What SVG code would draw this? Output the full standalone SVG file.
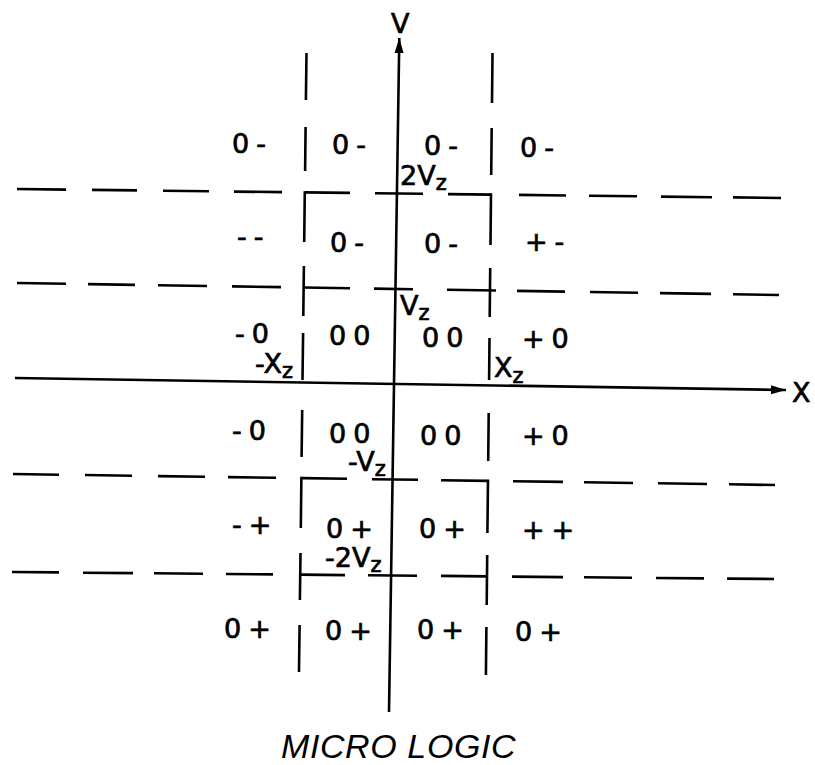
<svg xmlns="http://www.w3.org/2000/svg" width="815" height="765" viewBox="0 0 815 765">
<style>
.grid{stroke:#000;stroke-width:2.6;fill:none;stroke-linecap:butt}
.axis{stroke:#000;stroke-width:2.6;fill:none}
.lbl{font-family:"DejaVu Sans","Liberation Sans",sans-serif;font-size:27px;letter-spacing:7px;fill:#000;stroke:#000;stroke-width:0.7}
.ax{font-family:"DejaVu Sans","Liberation Sans",sans-serif;font-size:27px;fill:#000;stroke:#000;stroke-width:0.7}
.sub{font-size:21px}
.title{font-family:"Liberation Sans","DejaVu Sans",sans-serif;font-size:34px;font-style:italic;letter-spacing:0.6px;fill:#000}
</style>
<defs>
<marker id="arr" markerUnits="userSpaceOnUse" markerWidth="18" markerHeight="12" refX="15" refY="5" orient="auto">
<path d="M0,0.5 L15,5 L0,9.5 Z" fill="#000"/>
</marker>
</defs>
<rect width="815" height="765" fill="#fff"/>
<g id="connectors">
<g id="axes">
<line class="axis" x1="389" y1="712" x2="399.3" y2="38" marker-end="url(#arr)"/>
<line class="axis" x1="15" y1="378" x2="786" y2="390" marker-end="url(#arr)"/>
</g>
<g id="h-2Vz">
<path class="grid" d="M17,189 L66,189.6 M92,189.9 L137,190.4 M163,190.7 L209,191.3 M234,191.6 L282,192.1 M304.8,192.4 L350,192.9 M375,193.2 L423,193.8 M448,194.1 L491,194.6 M519,194.9 L566,195.5 M589,195.7 L637,196.3 M661,196.6 L712,197.2 M733,197.4 L781,198"/>
</g>
<g id="h-Vz">
<path class="grid" d="M17,283 L66,283.8 M88,284.1 L135,284.9 M158,285.2 L207,286 M232,286.4 L281,287.1 M303.5,287.5 L350,288.2 M374,288.6 L413,289.2 M447,289.8 L496,290.5 M517,290.9 L565,291.6 M590,292 L638,292.7 M660,293.1 L711,293.9 M733,294.2 L779,295"/>
</g>
<g id="h-negVz">
<path class="grid" d="M13,474 L59,474.7 M85,475 L132,475.7 M158,476.1 L205,476.8 M228,477.1 L276,477.8 M301.4,478.1 L347,478.8 M372,479.2 L418,479.8 M441,480.2 L487,480.9 M513,481.2 L563,481.9 M584,482.2 L633,483 M658,483.3 L707,484 M729,484.3 L775,485"/>
</g>
<g id="h-neg2Vz">
<path class="grid" d="M12,572 L59,572.4 M83,572.7 L133,573.1 M154,573.3 L203,573.8 M226,574 L273,574.4 M300.2,574.6 L345,575.1 M368,575.3 L417,575.7 M441,575.9 L487,576.4 M512,576.6 L563,577.1 M584,577.3 L632,577.8 M656,578 L704,578.4 M727,578.6 L774,579"/>
</g>
<g id="v-negXz">
<path class="grid" d="M306.5,53 L305.9,100 M305.6,127 L305.1,171 M304.8,191.2 L304.2,242 M303.9,266 L303.3,316 M303.1,333 L302.5,380 M302.2,410 L301.6,457 M301.4,476.8 L300.8,528 M300.5,553 L299.9,600 M299.6,625 L299,672"/>
</g>
<g id="v-Xz">
<path class="grid" d="M492.5,53 L492,103 M491.7,128 L491.2,175 M491,193.3 L490.5,245 M490.2,268 L489.7,317 M489.5,338 L489.1,380 M488.7,413 L488.2,461 M488,479.6 L487.4,533 M487.2,555 L486.7,605 M486.4,627 L485.9,675"/>
</g>
</g>
<g id="axis-labels">
<text id="lbl-V" class="ax" x="391" y="33">V</text>
<text id="lbl-X" class="ax" x="792" y="402">X</text>
<text id="lbl-2Vz" class="ax" x="400" y="185">2V<tspan class="sub" dy="5">z</tspan></text>
<text id="lbl-Vz" class="ax" x="400" y="315">V<tspan class="sub" dy="5">z</tspan></text>
<text id="lbl-negXz" class="ax" x="255" y="373">-X<tspan class="sub" dy="5">z</tspan></text>
<text id="lbl-Xz" class="ax" x="494" y="377">X<tspan class="sub" dy="6">z</tspan></text>
<text id="lbl-negVz" class="ax" x="348" y="471">-V<tspan class="sub" dy="5">z</tspan></text>
<text id="lbl-neg2Vz" class="ax" x="325" y="567">-2V<tspan class="sub" dy="5">z</tspan></text>
</g>
<g id="cells">
<g id="row1">
<text class="lbl" x="232" y="153">0-</text>
<text class="lbl" x="332" y="154">0-</text>
<text class="lbl" x="424" y="155">0-</text>
<text class="lbl" x="520" y="157">0-</text>
</g>
<g id="row2">
<text class="lbl" x="237" y="246">--</text>
<text class="lbl" x="330" y="252">0-</text>
<text class="lbl" x="424" y="253">0-</text>
<text class="lbl" x="525" y="251">+-</text>
</g>
<g id="row3">
<text class="lbl" x="235" y="343">-0</text>
<text class="lbl" x="329" y="345">00</text>
<text class="lbl" x="422" y="347">00</text>
<text class="lbl" x="522" y="348">+0</text>
</g>
<g id="row4">
<text class="lbl" x="232" y="440">-0</text>
<text class="lbl" x="329" y="443">00</text>
<text class="lbl" x="420" y="445">00</text>
<text class="lbl" x="522" y="445">+0</text>
</g>
<g id="row5">
<text class="lbl" x="232" y="534">-+</text>
<text class="lbl" x="326" y="538">0+</text>
<text class="lbl" x="419" y="538">0+</text>
<text class="lbl" x="522" y="539">++</text>
</g>
<g id="row6">
<text class="lbl" x="224" y="638">0+</text>
<text class="lbl" x="325" y="640">0+</text>
<text class="lbl" x="417" y="639">0+</text>
<text class="lbl" x="515" y="641">0+</text>
</g>
</g>
<g id="caption">
<text class="title" x="281" y="758">MICRO LOGIC</text>
</g>
</svg>
